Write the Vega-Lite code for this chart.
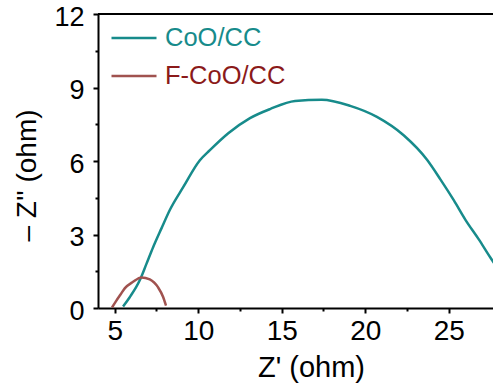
{
  "$schema": "https://vega.github.io/schema/vega-lite/v6.json",
  "width": 395,
  "height": 294,
  "autosize": "none",
  "padding": {"left": 98, "top": 14, "right": 0, "bottom": 84},
  "background": "white",
  "config": {
    "view": {"stroke": null},
    "font": "Liberation Sans",
    "axis": {"grid": false}
  },
  "data": {
    "values": [
      {"s": "CoO/CC", "i": 1, "x": 5.5, "y": 0.06},
      {"s": "CoO/CC", "i": 2, "x": 5.9, "y": 0.44},
      {"s": "CoO/CC", "i": 3, "x": 6.5, "y": 1.13},
      {"s": "CoO/CC", "i": 4, "x": 6.9, "y": 1.8},
      {"s": "CoO/CC", "i": 5, "x": 7.3, "y": 2.48},
      {"s": "CoO/CC", "i": 6, "x": 7.8, "y": 3.25},
      {"s": "CoO/CC", "i": 7, "x": 8.3, "y": 4.0},
      {"s": "CoO/CC", "i": 8, "x": 9.1, "y": 4.93},
      {"s": "CoO/CC", "i": 9, "x": 10.1, "y": 6.03},
      {"s": "CoO/CC", "i": 10, "x": 10.7, "y": 6.44},
      {"s": "CoO/CC", "i": 11, "x": 11.8, "y": 7.13},
      {"s": "CoO/CC", "i": 12, "x": 13.1, "y": 7.75},
      {"s": "CoO/CC", "i": 13, "x": 14.3, "y": 8.12},
      {"s": "CoO/CC", "i": 14, "x": 15.8, "y": 8.45},
      {"s": "CoO/CC", "i": 15, "x": 17.4, "y": 8.5},
      {"s": "CoO/CC", "i": 16, "x": 19.1, "y": 8.25},
      {"s": "CoO/CC", "i": 17, "x": 20.7, "y": 7.8},
      {"s": "CoO/CC", "i": 18, "x": 22.3, "y": 7.05},
      {"s": "CoO/CC", "i": 19, "x": 23.7, "y": 6.05},
      {"s": "CoO/CC", "i": 20, "x": 24.5, "y": 5.25},
      {"s": "CoO/CC", "i": 21, "x": 25.3, "y": 4.4},
      {"s": "CoO/CC", "i": 22, "x": 26.0, "y": 3.6},
      {"s": "CoO/CC", "i": 23, "x": 26.8, "y": 2.8},
      {"s": "CoO/CC", "i": 24, "x": 27.5, "y": 2.05},
      {"s": "CoO/CC", "i": 25, "x": 27.9, "y": 1.65},
      {"s": "F-CoO/CC", "i": 1, "x": 4.84, "y": 0.02},
      {"s": "F-CoO/CC", "i": 2, "x": 5.1, "y": 0.3},
      {"s": "F-CoO/CC", "i": 3, "x": 5.35, "y": 0.55},
      {"s": "F-CoO/CC", "i": 4, "x": 5.6, "y": 0.8},
      {"s": "F-CoO/CC", "i": 5, "x": 6.1, "y": 1.07},
      {"s": "F-CoO/CC", "i": 6, "x": 6.6, "y": 1.25},
      {"s": "F-CoO/CC", "i": 7, "x": 7.1, "y": 1.17},
      {"s": "F-CoO/CC", "i": 8, "x": 7.6, "y": 0.84},
      {"s": "F-CoO/CC", "i": 9, "x": 7.9, "y": 0.45},
      {"s": "F-CoO/CC", "i": 10, "x": 8.07, "y": 0.1}
    ]
  },
  "layer": [
    {
      "mark": {"type": "line", "strokeWidth": 2.5, "interpolate": "monotone", "clip": true},
      "encoding": {
        "x": {
          "field": "x", "type": "quantitative",
          "scale": {"domain": [4, 27.65], "nice": false, "zero": false},
          "axis": {
            "orient": "bottom",
            "values": [5, 10, 15, 20, 25],
            "title": "Z' (ohm)",
            "titleFont": "Liberation Sans",
            "titleFontSize": 29,
            "titleFontWeight": "normal",
            "titleColor": "black",
            "titleX": 213,
            "titleY": 59,
            "titleAlign": "center",
            "titleBaseline": "middle",
            "labelFont": "Liberation Sans",
            "labelFontSize": 28,
            "labelColor": "black",
            "labelPadding": 4,
            "labelFlush": false,
            "labelOverlap": false,
            "tickSize": 5,
            "tickWidth": 2,
            "tickColor": "black",
            "domainColor": "black",
            "domainWidth": 2
          }
        },
        "y": {
          "field": "y", "type": "quantitative",
          "scale": {"domain": [0, 12], "nice": false},
          "axis": {
            "orient": "left",
            "values": [0, 3, 6, 9, 12],
            "title": "– Z''  (ohm)",
            "titleFont": "Liberation Sans",
            "titleFontSize": 28,
            "titleFontWeight": "normal",
            "titleColor": "black",
            "titleX": -71,
            "titleY": 161,
            "titleAlign": "center",
            "titleBaseline": "middle",
            "titleAngle": -90,
            "labelFont": "Liberation Sans",
            "labelFontSize": 27,
            "labelColor": "black",
            "labelPadding": 9,
            "labelOffset": 3,
            "labelFlush": false,
            "labelOverlap": false,
            "tickSize": 5,
            "tickWidth": 2,
            "tickColor": "black",
            "domainColor": "black",
            "domainWidth": 2
          }
        },
        "color": {
          "field": "s", "type": "nominal",
          "scale": {"domain": ["CoO/CC", "F-CoO/CC"], "range": ["#178b8b", "#a0524f"]},
          "legend": {
            "orient": "none",
            "legendX": 12,
            "legendY": 0,
            "title": null,
            "padding": 0,
            "symbolType": "stroke",
            "symbolSize": 2025,
            "symbolStrokeWidth": 2.5,
            "labelFont": "Liberation Sans",
            "labelFontSize": 25.5,
            "labelOffset": 7,
            "rowPadding": -12,
            "encode": {
              "labels": {
                "update": {
                  "fill": {"signal": "datum.value === 'CoO/CC' ? '#178b8b' : '#8b1a1a'"}
                }
              }
            }
          }
        },
        "order": {"field": "i", "type": "quantitative"}
      }
    },
    {
      "mark": {"type": "point", "opacity": 0},
      "encoding": {
        "x": {
          "field": "x", "type": "quantitative",
          "axis": {
            "orient": "bottom",
            "values": [7.5, 12.5, 17.5, 22.5],
            "labels": false,
            "domain": false,
            "title": null,
            "tickSize": 3,
            "tickWidth": 2,
            "tickColor": "black"
          }
        },
        "y": {
          "field": "y", "type": "quantitative",
          "axis": {
            "orient": "left",
            "values": [1.5, 4.5, 7.5, 10.5],
            "labels": false,
            "domain": false,
            "title": null,
            "tickSize": 3,
            "tickWidth": 2,
            "tickColor": "black"
          }
        }
      }
    },
    {
      "mark": {"type": "rule", "color": "black", "strokeWidth": 2},
      "encoding": {
        "y": {"datum": 12, "axis": null}
      }
    }
  ],
  "resolve": {"axis": {"x": "independent", "y": "independent"}}
}
